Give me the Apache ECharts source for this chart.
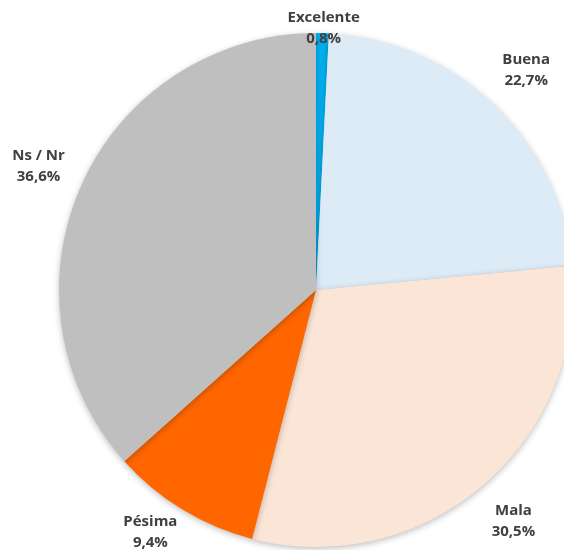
<!DOCTYPE html>
<html>
<head>
<meta charset="utf-8">
<script src="https://cdn.jsdelivr.net/npm/echarts@6/dist/echarts.min.js"></script>
<style>
  html, body { margin: 0; padding: 0; background: #fff; }
  #main { width: 564px; height: 550px; }
</style>
</head>
<body>
<div id="main"></div>
<script>
var categories = ['Excelente', 'Buena', 'Mala', 'Pésima', 'Ns / Nr'];
var values = [0.8, 22.7, 30.5, 9.4, 36.6];
var colors = ['#00B0F0', '#DDEBF7', '#FBE5D6', '#FF6600', '#BFBFBF'];

var cx = 316, cy = 290, R = 257, labelDist = 304;
var total = values.reduce(function (a, b) { return a + b; }, 0);

// angulo medio de cada porcion (desde arriba, sentido horario)
var midAngles = [];
var acc = 0;
for (var i = 0; i < values.length; i++) {
  midAngles.push((acc + values[i] / 2) / total * Math.PI * 2);
  acc += values[i];
}

var chart = echarts.init(document.getElementById('main'));
var option = {
  backgroundColor: '#ffffff',
  series: [{
    type: 'pie',
    center: [cx, cy],
    radius: [0, R],
    startAngle: 90,
    clockwise: true,
    silent: true,
    animation: false,
    data: categories.map(function (c, i) {
      return { name: c, value: values[i], itemStyle: { color: colors[i] } };
    }),
    itemStyle: {
      borderWidth: 0,
      shadowBlur: 6,
      shadowOffsetY: 2,
      shadowColor: 'rgba(0,0,0,0.25)'
    },
    label: {
      show: true,
      position: 'inside',
      formatter: function (p) {
        return p.name + '\n' + p.value.toFixed(1).replace('.', ',') + '%';
      },
      fontFamily: 'Open Sans',
      fontWeight: 'bold',
      fontSize: 15,
      lineHeight: 21,
      color: '#404040',
      align: 'center'
    },
    labelLine: { show: false },
    labelLayout: function (p) {
      var a = midAngles[p.dataIndex];
      var ux = Math.sin(a), uy = -Math.cos(a);
      var h = p.labelRect.height;
      var x = cx + ux * labelDist, y = cy + uy * labelDist;
      var yc = Math.max(h / 2 + 7, Math.min(550 - h / 2 + 3, y));
      if (yc !== y && Math.abs(uy) < 0.95) {
        // si la etiqueta se sale del borde, se desliza hacia fuera
        var dy = yc - cy;
        var xRay = cx + ux * dy / uy;
        var xArc = cx + (ux < 0 ? -1 : 1) * Math.sqrt(labelDist * labelDist - dy * dy);
        x = (xRay + xArc) / 2;
      }
      return { x: x, y: yc, align: 'center', verticalAlign: 'middle' };
    }
  }]
};
chart.setOption(option);
</script>
</body>
</html>
